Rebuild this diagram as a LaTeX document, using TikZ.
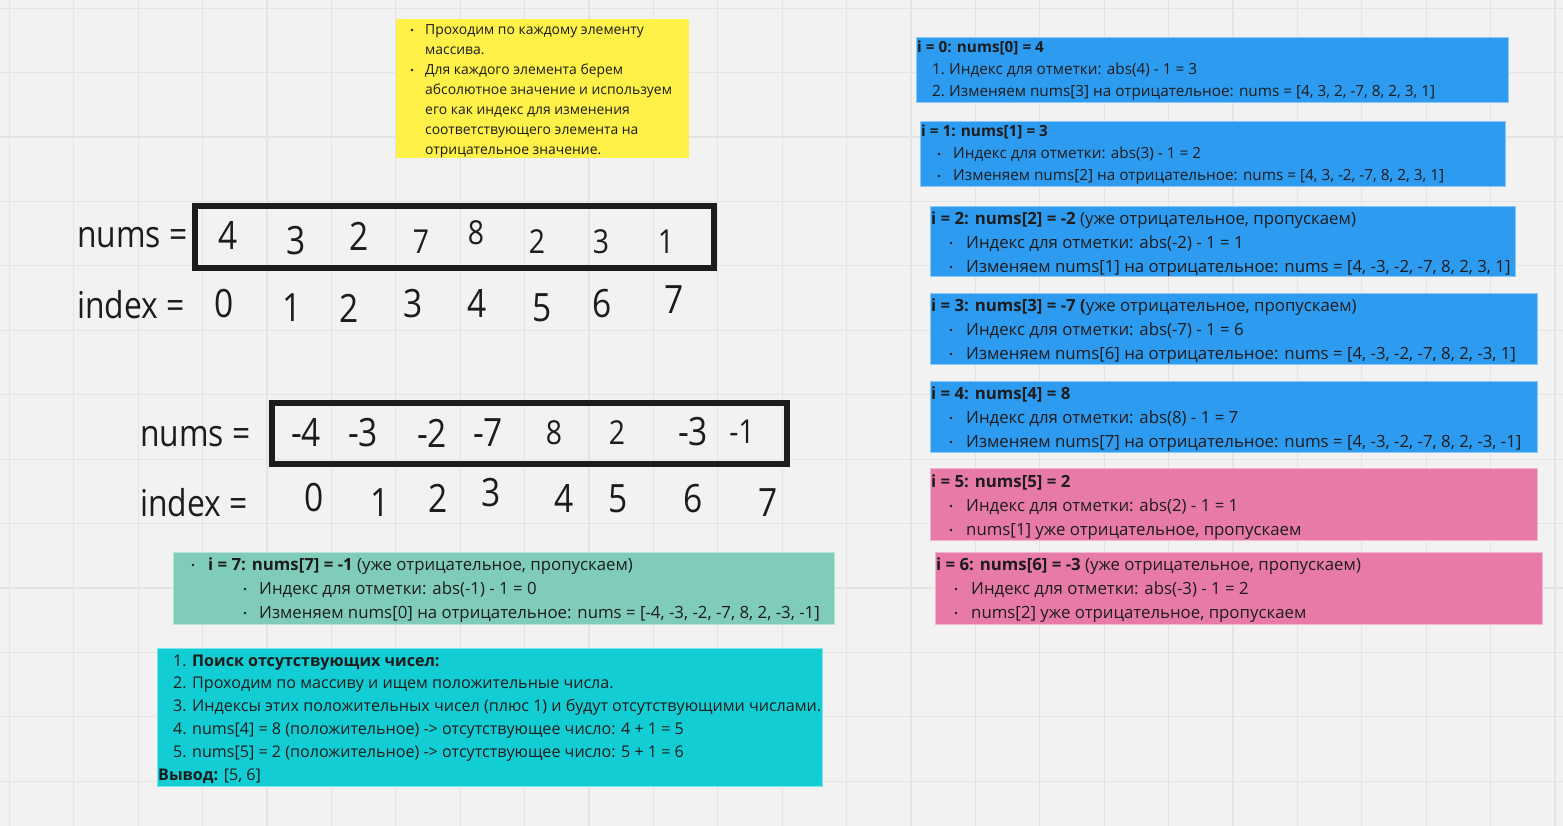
\documentclass[tikz,border=0pt]{standalone}
\usepackage{fontspec}
\setmainfont{Open Sans}
\newfontfamily\bigf{Open Sans}[FakeStretch=0.86]
\definecolor{bg}{HTML}{F2F2F2}
\definecolor{gridc}{HTML}{E4E4E4}
\definecolor{ink}{HTML}{1C1C1C}
\definecolor{yel}{HTML}{FFF147}
\definecolor{blu}{HTML}{2D9BF0}
\definecolor{pnk}{HTML}{E87AA8}
\definecolor{grn}{HTML}{80CCBA}
\definecolor{cyn}{HTML}{12CDD4}
\tikzset{
  x=1pt,y=-1pt,
  tA/.style={inner sep=0pt,anchor=base west,yshift=-6pt,text=ink,font=\fontsize{15.3}{18}\selectfont},
  tB/.style={inner sep=0pt,anchor=base west,yshift=-6.5pt,text=ink,font=\fontsize{16.8}{19}\selectfont},
  tC/.style={inner sep=0pt,anchor=base west,yshift=-6.3pt,text=ink,font=\fontsize{16.1}{19}\selectfont},
  tY/.style={inner sep=0pt,anchor=base west,yshift=-5.5pt,text=ink,font=\fontsize{13.9}{16}\selectfont},
  big/.style={inner sep=0pt,text=ink,font=\bigf\fontsize{39}{44}\selectfont},
  mid/.style={inner sep=0pt,text=ink,font=\bigf\fontsize{33}{38}\selectfont},
  lbl/.style={inner sep=0pt,anchor=base west,yshift=-13.5pt,text=ink,font=\bigf\fontsize{37}{42}\selectfont},
  note/.style={line width=0.8pt},
  arr/.style={draw=ink,line width=6pt},
}
\newcommand\bul[2]{\fill[ink] (#1,#2+1) circle (1.4pt);}
\begin{document}
\begin{tikzpicture}
\useasboundingbox (0,0) rectangle (1563,826);
\fill[bg] (0,0) rectangle (1563,826);
\foreach \i in {0,...,24} \draw[gridc,line width=1.2pt] ({9.3+64.4*\i},0) -- ({9.3+64.4*\i},826);
\foreach \i in {0,...,12} \draw[gridc,line width=1.2pt] (0,{8.3+64.4*\i}) -- (1563,{8.3+64.4*\i});

% yellow note
\fill[yel] (396,19) rectangle (689,158);
\bul{412}{29}\bul{412}{69}
\node[tY] (y1) at (425,29) {Проходим по каждому элементу};
\node[tY] (y2) at (425,49) {массива.};
\node[tY] (y3) at (425,69) {Для каждого элемента берем};
\node[tY] (y4) at (425,89) {абсолютное значение и используем};
\node[tY] (y5) at (425,109) {его как индекс для изменения};
\node[tY] (y6) at (425,129) {соответствующего элемента на};
\node[tY] (y7) at (425,149) {отрицательное значение.};

% top array
\node[lbl] (nums1) at (77,234) {nums =};
\node[lbl] (idx1) at (77,305) {index =};
\draw[arr] (195,206) rectangle (714,268);
\node[big] (a0) at (228,236) {4};
\node[big] (a1) at (296,241) {3};
\node[big] (a2) at (359,236) {2};
\node[mid] (a3) at (421,242) {7};
\node[mid] (a4) at (476,233) {8};
\node[mid] (a5) at (537,242) {2};
\node[mid] (a6) at (601,242) {3};
\node[mid] (a7) at (666,242) {1};
\node[big] (i0) at (224,304) {0};
\node[big] (i1) at (292,308) {1};
\node[big] (i2) at (349,308) {2};
\node[big] (i3) at (413,304) {3};
\node[big] (i4) at (477,304) {4};
\node[big] (i5) at (542,308) {5};
\node[big] (i6) at (602,304) {6};
\node[big] (i7) at (674,300) {7};

% bottom array
\node[lbl] (nums2) at (140,433) {nums =};
\node[lbl] (idx2) at (140,503) {index =};
\draw[arr] (272,403) rectangle (787,464);
\node[big] (b0) at (306,433) {-4};
\node[big] (b1) at (363,433) {-3};
\node[big] (b2) at (432,433) {-2};
\node[big] (b3) at (488,433) {-7};
\node[mid] (b4) at (554,433) {8};
\node[mid] (b5) at (617,433) {2};
\node[big] (b6) at (693,432) {-3};
\node[mid] (b7) at (742,432) {-1};
\node[big] (j0) at (314,498) {0};
\node[big] (j1) at (380,503) {1};
\node[big] (j2) at (438,498) {2};
\node[big] (j3) at (491,493) {3};
\node[big] (j4) at (564,499) {4};
\node[big] (j5) at (618,499) {5};
\node[big] (j6) at (693,499) {6};
\node[big] (j7) at (768,503) {7};

% blue notes
\fill[blu,draw=blu!55!white,note] (916,37) rectangle (1508,102);
\node[tA] (s0h) at (917,47) {\bfseries i = 0: nums[0] = 4};
\node[tA] (s0n1) at (932,69) {1.};
\node[tA] (s0a) at (949,69) {Индекс для отметки: abs(4) - 1 = 3};
\node[tA] (s0n2) at (932,91) {2.};
\node[tA] (s0b) at (949,91) {Изменяем nums[3] на отрицательное: nums = [4, 3, 2, -7, 8, 2, 3, 1]};

\fill[blu,draw=blu!55!white,note] (920,121) rectangle (1505,186);
\node[tA] (s1h) at (921,131) {\bfseries i = 1: nums[1] = 3};
\bul{939}{153}\bul{939}{175}
\node[tA] (s1a) at (953,153) {Индекс для отметки: abs(3) - 1 = 2};
\node[tA] (s1b) at (953,175) {Изменяем nums[2] на отрицательное: nums = [4, 3, -2, -7, 8, 2, 3, 1]};

\fill[blu,draw=blu!55!white,note] (930,206) rectangle (1515,276);
\node[tB] (s2h) at (931,218) {\textbf{i = 2: nums[2] = -2} (уже отрицательное, пропускаем)};
\bul{951}{242}\bul{951}{266}
\node[tB] (s2a) at (966,242) {Индекс для отметки: abs(-2) - 1 = 1};
\node[tB] (s2b) at (966,266) {Изменяем nums[1] на отрицательное: nums = [4, -3, -2, -7, 8, 2, 3, 1]};

\fill[blu,draw=blu!55!white,note] (930,293) rectangle (1537,364);
\node[tB] (s3h) at (931,305) {\textbf{i = 3: nums[3] = -7 (}уже отрицательное, пропускаем)};
\bul{951}{329}\bul{951}{353}
\node[tB] (s3a) at (966,329) {Индекс для отметки: abs(-7) - 1 = 6};
\node[tB] (s3b) at (966,353) {Изменяем nums[6] на отрицательное: nums = [4, -3, -2, -7, 8, 2, -3, 1]};

\fill[blu,draw=blu!55!white,note] (930,381) rectangle (1537,452);
\node[tB] (s4h) at (931,393) {\bfseries i = 4: nums[4] = 8};
\bul{951}{417}\bul{951}{441}
\node[tB] (s4a) at (966,417) {Индекс для отметки: abs(8) - 1 = 7};
\node[tB] (s4b) at (966,441) {Изменяем nums[7] на отрицательное: nums = [4, -3, -2, -7, 8, 2, -3, -1]};

% pink notes
\fill[pnk,draw=pnk!55!white,note] (930,468) rectangle (1537,540);
\node[tB] (s5h) at (931,481) {\bfseries i = 5: nums[5] = 2};
\bul{951}{505}\bul{951}{529}
\node[tB] (s5a) at (966,505) {Индекс для отметки: abs(2) - 1 = 1};
\node[tB] (s5b) at (966,529) {nums[1] уже отрицательное, пропускаем};

\fill[pnk,draw=pnk!55!white,note] (935,552) rectangle (1542,624);
\node[tB] (s6h) at (936,564) {\textbf{i = 6: nums[6] = -3} (уже отрицательное, пропускаем)};
\bul{956}{588}\bul{956}{612}
\node[tB] (s6a) at (971,588) {Индекс для отметки: abs(-3) - 1 = 2};
\node[tB] (s6b) at (971,612) {nums[2] уже отрицательное, пропускаем};

% green note
\fill[grn,draw=grn!55!white,note] (173,552) rectangle (834,624);
\bul{193}{564}
\node[tB] (s7h) at (208,564) {\textbf{i = 7: nums[7] = -1} (уже отрицательное, пропускаем)};
\bul{245}{588}\bul{245}{612}
\node[tB] (s7a) at (259,588) {Индекс для отметки: abs(-1) - 1 = 0};
\node[tB] (s7b) at (259,612) {Изменяем nums[0] на отрицательное: nums = [-4, -3, -2, -7, 8, 2, -3, -1]};

% cyan note
\fill[cyn,draw=cyn!55!white,note] (157,648) rectangle (822,786);
\node[tC] (c1n) at (173,660) {1.};
\node[tC] (c1) at (192,660) {\bfseries Поиск отсутствующих чисел:};
\node[tC] (c2n) at (173,682) {2.};
\node[tC] (c2) at (192,682) {Проходим по массиву и ищем положительные числа.};
\node[tC] (c3n) at (173,705) {3.};
\node[tC] (c3) at (192,705) {Индексы этих положительных чисел (плюс 1) и будут отсутствующими числами.};
\node[tC] (c4n) at (173,728) {4.};
\node[tC] (c4) at (192,728) {nums[4] = 8 (положительное) -> отсутствующее число: 4 + 1 = 5};
\node[tC] (c5n) at (173,751) {5.};
\node[tC] (c5) at (192,751) {nums[5] = 2 (положительное) -> отсутствующее число: 5 + 1 = 6};
\node[tC] (c6) at (158,774) {\textbf{Вывод:} [5, 6]};
\end{tikzpicture}
\end{document}
